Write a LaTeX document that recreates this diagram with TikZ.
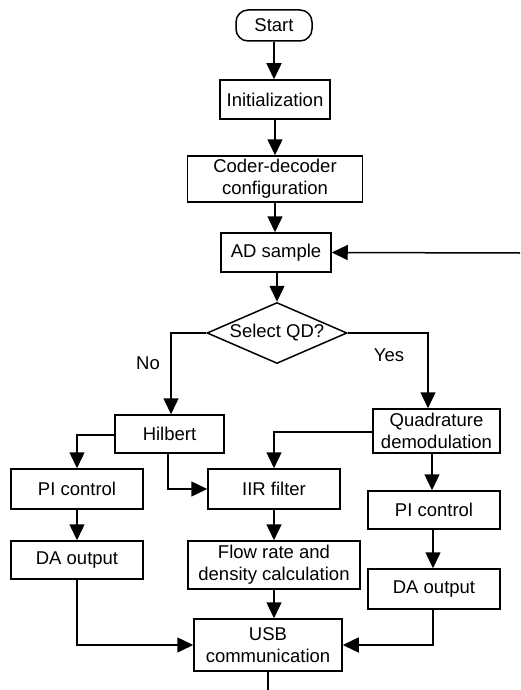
\documentclass[tikz,border=0pt]{standalone}
\usepackage{fontspec}
\setmainfont{Liberation Sans}
\usetikzlibrary{shapes.geometric,arrows.meta}
\begin{document}
\begin{tikzpicture}[x=1pt,y=-1pt,
  every node/.style={font=\fontsize{18.5}{22}\selectfont},
  box/.style={draw,line width=1.5pt,rectangle,inner sep=0pt,align=center},
  term/.style={box,rounded corners=12pt},
  dec/.style={draw,line width=1.5pt,diamond,inner sep=0pt,aspect=2.3,minimum width=140pt,minimum height=61pt},
  lbl/.style={inner sep=0pt},
  conn/.style={line width=1.5pt,-{Triangle[length=16pt,width=15pt]}},
  plain/.style={line width=1.5pt}]
\useasboundingbox (0,0) rectangle (520,690);
\node[term,minimum width=76pt,minimum height=31pt] (start) at (274,25.5) {Start};
\node[box,minimum width=110pt,minimum height=39pt] (init) at (275,99.5) {Initialization};
\node[box,minimum width=175pt,minimum height=46pt] (coder) at (275,179) {Coder-decoder\\configuration};
\node[box,minimum width=110pt,minimum height=39pt] (ad) at (276,252.5) {AD sample};
\node[dec] (dia) at (277,333) {Select QD?};
\node[lbl] (no) at (148,363) {No};
\node[lbl] (yes) at (389,355) {Yes};
\node[box,minimum width=109pt,minimum height=38pt] (hil) at (169.5,434) {Hilbert};
\node[box,minimum width=127pt,minimum height=44pt] (quad) at (436.5,431) {Quadrature\\demodulation};
\node[box,minimum width=132pt,minimum height=40pt] (pil) at (77,489) {PI control};
\node[box,minimum width=132pt,minimum height=40pt] (iir) at (274,489) {IIR filter};
\node[box,minimum width=132pt,minimum height=38pt] (pir) at (434,510) {PI control};
\node[box,minimum width=132pt,minimum height=38pt] (dal) at (77,560) {DA output};
\node[box,minimum width=172pt,minimum height=48pt] (flow) at (274,565) {Flow rate and\\density calculation};
\node[box,minimum width=132pt,minimum height=40pt] (dar) at (434,589) {DA output};
\node[box,minimum width=148pt,minimum height=52pt] (usb) at (268,645) {USB\\communication};
\coordinate (fb) at (520,253);
\coordinate (endc) at (268,690);
\coordinate (lb) at (171,333);
\coordinate (rb) at (428,333);
\coordinate (hl) at (77,435);
\coordinate (hb) at (168,453);
\coordinate (ql) at (274,432);
\coordinate (qb) at (432,453);
\coordinate (dalb) at (77,645);
\coordinate (darb) at (433,645);
\coordinate (flb) at (274,589);

\draw[conn] (start.south) -- (start.south |- init.north);
\draw[conn] (init.south) -- (init.south |- coder.north);
\draw[conn] (coder.south) -- (coder.south |- ad.north);
\draw[conn] (ad.south -| dia.north) -- (dia.north);
\draw[conn] (fb) -- (ad.east);
\draw[conn] (dia.west) -- (lb) -- (lb |- hil.north);
\draw[conn] (dia.east) -- (rb) -- (rb |- quad.north);
\draw[conn] (hil.west |- hl) -- (hl) -- (hl |- pil.north);
\draw[conn] (hb) -- (hb |- iir.west) -- (iir.west);
\draw[conn] (quad.west |- ql) -- (ql) -- (ql |- iir.north);
\draw[conn] (qb) -- (qb |- pir.north);
\draw[conn] (pil.south) -- (dal.north);
\draw[conn] (iir.south) -- (flow.north);
\draw[conn] (pir.south -| darb) -- (darb |- dar.north);
\draw[conn] (dal.south) -- (dalb) -- (usb.west |- dalb);
\draw[conn] (flb) -- (flb |- usb.north);
\draw[conn] (dar.south -| darb) -- (darb) -- (usb.east |- darb);
\draw[plain] (usb.south -| endc) -- (endc);
\end{tikzpicture}
\end{document}
